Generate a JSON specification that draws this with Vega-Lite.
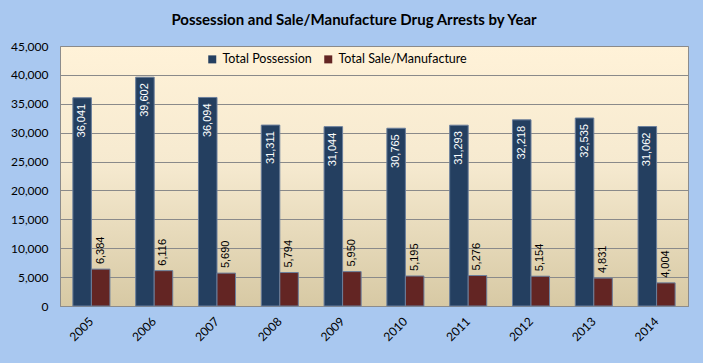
{
  "$schema": "https://vega.github.io/schema/vega-lite/v6.json",
  "width": 628,
  "height": 260,
  "autosize": {"type": "none"},
  "padding": {"left": 60, "top": 46, "right": 15, "bottom": 57},
  "background": "#a9c8f0",
  "config": {
    "view": {
      "stroke": "#8c8c8c",
      "strokeWidth": 1,
      "fill": {
        "gradient": "linear",
        "x1": 0, "y1": 0, "x2": 0, "y2": 1,
        "stops": [
          {"offset": 0, "color": "#fff2d8"},
          {"offset": 0.45, "color": "#f6ead0"},
          {"offset": 1, "color": "#d7c9a4"}
        ]
      }
    },
    "font": "Lato"
  },
  "title": {
    "text": "Possession and Sale/Manufacture Drug Arrests by Year",
    "font": "Lato",
    "fontSize": 15,
    "fontWeight": "bold",
    "color": "#000000",
    "anchor": "middle",
    "offset": 12,
    "dx": -20
  },
  "data": {
    "values": [
      {"year": "2005", "series": "Total Possession", "value": 36041},
      {"year": "2006", "series": "Total Possession", "value": 39602},
      {"year": "2007", "series": "Total Possession", "value": 36094},
      {"year": "2008", "series": "Total Possession", "value": 31311},
      {"year": "2009", "series": "Total Possession", "value": 31044},
      {"year": "2010", "series": "Total Possession", "value": 30765},
      {"year": "2011", "series": "Total Possession", "value": 31293},
      {"year": "2012", "series": "Total Possession", "value": 32218},
      {"year": "2013", "series": "Total Possession", "value": 32535},
      {"year": "2014", "series": "Total Possession", "value": 31062},
      {"year": "2005", "series": "Total Sale/Manufacture", "value": 6384},
      {"year": "2006", "series": "Total Sale/Manufacture", "value": 6116},
      {"year": "2007", "series": "Total Sale/Manufacture", "value": 5690},
      {"year": "2008", "series": "Total Sale/Manufacture", "value": 5794},
      {"year": "2009", "series": "Total Sale/Manufacture", "value": 5950},
      {"year": "2010", "series": "Total Sale/Manufacture", "value": 5195},
      {"year": "2011", "series": "Total Sale/Manufacture", "value": 5276},
      {"year": "2012", "series": "Total Sale/Manufacture", "value": 5154},
      {"year": "2013", "series": "Total Sale/Manufacture", "value": 4831},
      {"year": "2014", "series": "Total Sale/Manufacture", "value": 4004}
    ]
  },
  "encoding": {
    "x": {
      "field": "year",
      "type": "nominal",
      "scale": {"paddingInner": 0.41, "paddingOuter": 0.205},
      "axis": {
        "title": null,
        "labelAngle": -45,
        "labelAlign": "right",
        "labelBaseline": "middle",
        "labelFont": "Lato",
        "labelFontSize": 12,
        "labelColor": "#000000",
        "labelPadding": 13,
        "ticks": false,
        "domainColor": "#8c8c8c",
        "grid": false
      }
    },
    "xOffset": {"field": "series", "type": "nominal"},
    "y": {
      "field": "value",
      "type": "quantitative",
      "scale": {"domain": [0, 45000], "nice": false},
      "axis": {
        "title": null,
        "values": [0, 5000, 10000, 15000, 20000, 25000, 30000, 35000, 40000, 45000],
        "format": ",d",
        "labelFont": "Lato",
        "labelFontSize": 12,
        "labelColor": "#000000",
        "labelPadding": 12,
        "ticks": false,
        "domain": false,
        "gridColor": "#8a8a8a",
        "gridWidth": 1
      }
    }
  },
  "layer": [
    {
      "mark": {"type": "bar", "stroke": "#6b7f9c", "strokeWidth": 1},
      "encoding": {
        "color": {
          "field": "series",
          "type": "nominal",
          "scale": {"domain": ["Total Possession", "Total Sale/Manufacture"], "range": ["#243f60", "#632523"]},
          "legend": {
            "title": null,
            "orient": "none",
            "direction": "horizontal",
            "legendX": 146,
            "legendY": 7,
            "symbolType": "square",
            "symbolSize": 64,
            "symbolStrokeWidth": 0,
            "labelFont": "Lato",
            "labelFontSize": 12.5,
            "labelColor": "#000000",
            "labelOffset": 4,
            "columnPadding": 10
          }
        }
      }
    },
    {
      "transform": [{"filter": "datum.series === 'Total Possession'"}],
      "mark": {"type": "text", "angle": 270, "align": "right", "baseline": "middle", "dx": -6, "color": "#ffffff", "font": "Liberation Sans", "fontSize": 11},
      "encoding": {
        "text": {"field": "value", "type": "quantitative", "format": ","}
      }
    },
    {
      "transform": [{"filter": "datum.series === 'Total Sale/Manufacture'"}],
      "mark": {"type": "text", "angle": 270, "align": "left", "baseline": "middle", "dx": 5, "color": "#000000", "font": "Liberation Sans", "fontSize": 11},
      "encoding": {
        "text": {"field": "value", "type": "quantitative", "format": ","}
      }
    }
  ]
}
